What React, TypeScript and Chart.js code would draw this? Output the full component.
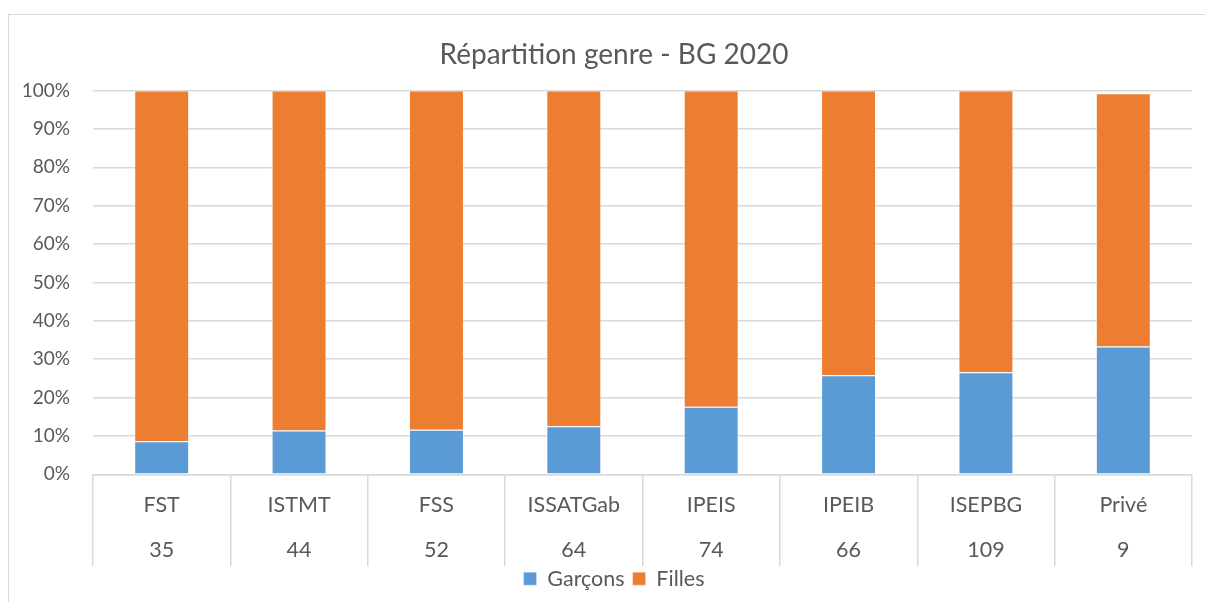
import React, { useEffect, useRef } from "react";
import { Chart, registerables } from "chart.js";

Chart.register(...registerables);

const categories = ["FST", "ISTMT", "FSS", "ISSATGab", "IPEIS", "IPEIB", "ISEPBG", "Privé"];
const totals = ["35", "44", "52", "64", "74", "66", "109", "9"];
const garcons = [8.6, 11.4, 11.6, 12.5, 17.6, 25.8, 26.6, 33.3];
const filles = [91.4, 88.6, 88.4, 87.5, 82.4, 74.2, 73.4, 66.0];
const seriesNames = ["Garçons", "Filles"];
const titleText = "Répartition genre - BG 2020";

const FONT = "Lato, 'Open Sans', sans-serif";
const TEXT = "#595959";
const GRID = "#d9d9d9";

const framePlugin = {
  id: "frame",
  beforeDraw(chart: any) {
    const ctx = chart.ctx;
    ctx.save();
    ctx.fillStyle = "#ffffff";
    ctx.fillRect(0, 0, chart.width, chart.height);
    ctx.strokeStyle = GRID;
    ctx.lineWidth = 1;
    ctx.strokeRect(8.5, 14.5, chart.width + 50, chart.height + 50);
    ctx.restore();
  },
};

export default function App() {
  const ref = useRef<HTMLCanvasElement | null>(null);

  useEffect(() => {
    if (!ref.current) return;
    const chart = new Chart(ref.current, {
      type: "bar",
      data: {
        labels: categories.map((c, i) => [c, totals[i]]),
        datasets: [
          {
            label: seriesNames[0],
            data: garcons,
            backgroundColor: "#5b9bd5",
            borderColor: "rgba(255,255,255,0.35)",
            borderWidth: 1,
            categoryPercentage: 1,
            barPercentage: 0.4,
          },
          {
            label: seriesNames[1],
            data: filles,
            backgroundColor: "#ed7d31",
            borderColor: "rgba(255,255,255,0.35)",
            borderWidth: 1,
            categoryPercentage: 1,
            barPercentage: 0.4,
          },
        ],
      },
      options: {
        responsive: false,
        animation: false,
        layout: { padding: { top: 14, left: 23, right: 0, bottom: 2.6 } },
        plugins: {
          title: {
            display: true,
            text: titleText,
            color: TEXT,
            font: { family: FONT, size: 28, weight: "normal" },
            padding: { top: 24, bottom: 19 },
          },
          legend: {
            position: "bottom",
            labels: {
              color: TEXT,
              font: { family: FONT, size: 21.5 },
              boxWidth: 13,
              boxHeight: 13,
              padding: 8,
            },
          },
          tooltip: { enabled: false },
        },
        scales: {
          x: {
            stacked: true,
            grid: {
              display: true,
              drawOnChartArea: false,
              drawTicks: true,
              tickLength: 92,
              color: GRID,
              lineWidth: 1.5,
              offset: true,
            },
            border: { display: true, color: GRID, width: 1.5 },
            ticks: {
              color: TEXT,
              font: { family: FONT, size: 21.5, lineHeight: "45.5px" },
              padding: -84.25,
              maxRotation: 0,
              autoSkip: false,
            },
            afterFit(scale: any) {
              scale.height = 85.6;
            },
          },
          y: {
            stacked: true,
            min: 0,
            max: 100,
            grid: { color: GRID, lineWidth: 1.5, drawTicks: false },
            border: { display: false },
            ticks: {
              stepSize: 10,
              color: TEXT,
              padding: 23,
              font: { family: FONT, size: 19 },
              callback: (v: any) => `${v}%`,
            },
            afterFit(scale: any) {
              scale.width = 70;
            },
          },
          yR: {
            position: "right",
            display: true,
            grid: { display: false },
            border: { display: false },
            ticks: { display: false },
            afterFit(scale: any) {
              scale.width = 13;
            },
          },
        },
      },
      plugins: [framePlugin],
    });
    return () => chart.destroy();
  }, []);

  return (
    <div style={{ position: "fixed", left: 0, top: 0, width: 1205, height: 602, background: "#fff" }}>
      <canvas ref={ref} width={1205} height={602} />
    </div>
  );
}
